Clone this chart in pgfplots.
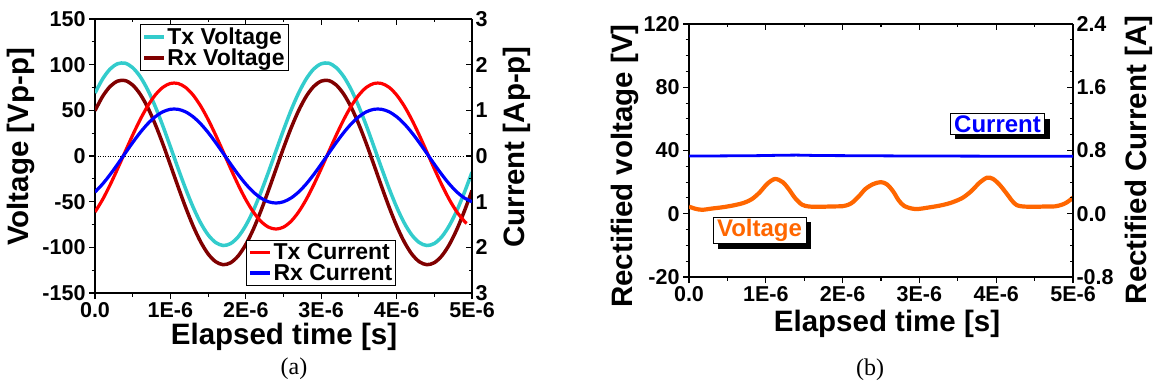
\documentclass[border=0pt]{standalone}
\usepackage{fontspec}
\setmainfont{Liberation Sans}
\newfontfamily\seriffont{Liberation Serif}
\usepackage{pgfplots}
\pgfplotsset{compat=1.18}
\usetikzlibrary{shadows}

\newcommand\tickfont{\fontsize{21.5}{24}\selectfont\bfseries}
\newcommand\labfont{\fontsize{29.5}{32}\selectfont\bfseries}
\newcommand\legfont{\fontsize{23}{25}\selectfont\bfseries}

\definecolor{txv}{RGB}{51,204,204}
\definecolor{rxv}{RGB}{128,0,0}
\definecolor{orng}{RGB}{255,102,0}

\pgfplotsset{
  base/.style={scale only axis, xmin=0, xmax=5, xtick={0,1,2,3,4,5}, minor x tick num=1,
    axis line style={line width=1.1pt,-}, every tick/.style={black,line width=1.1pt},
    major tick length=6pt, minor tick length=3.5pt,
    tick label style={font=\tickfont},
    /pgf/number format/assume math mode=true},
  lowerleft/.style={base, axis x line*=bottom, axis y line*=left, tick align=outside,
    xticklabels={0.0,1E-6,2E-6,3E-6,4E-6,5E-6}},
  upperright/.style={base, axis x line*=top, axis y line*=right, tick align=inside,
    xticklabel=\empty},
  leg/.style={legend style={draw=black, line width=1.1pt, font=\legfont, inner sep=2pt,
      nodes={inner sep=1.5pt}, cells={anchor=west}, row sep=0pt},
    legend image code/.code={\draw[##1, line width=3.5pt] (0pt,0pt) -- (20pt,0pt);}},
}

\begin{document}
\begin{tikzpicture}
\useasboundingbox (0pt,0pt) rectangle (1155pt,-387pt);

% ---------------- Panel (a) ----------------
\begin{axis}[lowerleft, leg, at={(95pt,-293pt)}, anchor=south west, width=377pt, height=274pt,
  ymin=-150, ymax=150, ytick={-150,-100,-50,0,50,100,150},
  yticklabels={-150,-100,-50,0,50,100,150}, minor y tick num=1,
  legend style={at={(0.119,0.982)}, anchor=north west}]
\addplot[black, line width=0.9pt, dash pattern=on 1pt off 1.5pt, forget plot] coordinates {(0,0) (4.89,0)};
\addplot[txv, line width=3.5pt, smooth] table {
t v
0.0 68.9
0.1 84.2
0.2 95.2
0.3 101.0
0.4 101.6
0.5 96.7
0.6 86.8
0.7 72.3
0.8 54.0
0.9 32.9
1.0 10.1
1.1 -13.1
1.2 -35.5
1.3 -55.8
1.4 -73.1
1.5 -86.3
1.6 -94.7
1.7 -98.0
1.8 -95.8
1.9 -88.4
2.0 -76.1
2.1 -59.6
2.2 -39.7
2.3 -17.7
2.4 5.5
2.5 28.4
2.6 50.0
2.7 68.9
2.8 84.2
2.9 95.2
3.0 101.0
3.1 101.6
3.2 96.7
3.3 86.8
3.4 72.3
3.5 54.0
3.6 32.9
3.7 10.1
3.8 -13.1
3.9 -35.5
4.0 -55.8
4.1 -73.1
4.2 -86.3
4.3 -94.7
4.4 -98.0
4.5 -95.8
4.6 -88.4
4.7 -76.1
4.8 -59.6
4.9 -39.7
5.0 -17.7
};
\addlegendentry{Tx Voltage}
\addplot[rxv, line width=3.5pt, smooth] table {
t v
0.0 49.6
0.1 65.1
0.2 76.1
0.3 82.0
0.4 82.6
0.5 77.7
0.6 67.6
0.7 53.0
0.8 34.5
0.9 13.2
1.0 -9.8
1.1 -33.2
1.2 -55.8
1.3 -76.4
1.4 -93.8
1.5 -107.2
1.6 -115.7
1.7 -119.0
1.8 -116.8
1.9 -109.3
2.0 -96.9
2.1 -80.2
2.2 -60.1
2.3 -37.8
2.4 -14.5
2.5 8.7
2.6 30.5
2.7 49.6
2.8 65.1
2.9 76.1
3.0 82.0
3.1 82.6
3.2 77.7
3.3 67.6
3.4 53.0
3.5 34.5
3.6 13.2
3.7 -9.8
3.8 -33.2
3.9 -55.8
4.0 -76.4
4.1 -93.8
4.2 -107.2
4.3 -115.7
4.4 -119.0
4.5 -116.8
4.6 -109.3
4.7 -96.9
4.8 -80.2
4.9 -60.1
5.0 -37.8
};
\addlegendentry{Rx Voltage}
\end{axis}

\begin{axis}[upperright, leg, at={(95pt,-293pt)}, anchor=south west, width=377pt, height=274pt,
  ymin=-3, ymax=3, ytick={-3,-2,-1,0,1,2,3}, yticklabels={3,2,1,0,1,2,3}, minor y tick num=1,
  legend style={at={(0.4005,0.0255)}, anchor=south west}]
\addplot[red, line width=3.2pt, smooth] table {
t a
0.0 -1.226
0.1 -0.956
0.2 -0.634
0.3 -0.278
0.4 0.093
0.5 0.459
0.6 0.800
0.7 1.098
0.8 1.337
0.9 1.504
1.0 1.589
1.1 1.589
1.2 1.504
1.3 1.337
1.4 1.098
1.5 0.800
1.6 0.459
1.7 0.093
1.8 -0.278
1.9 -0.634
2.0 -0.956
2.1 -1.226
2.2 -1.430
2.3 -1.557
2.4 -1.600
2.5 -1.557
2.6 -1.430
2.7 -1.226
2.8 -0.956
2.9 -0.634
3.0 -0.278
3.1 0.093
3.2 0.459
3.3 0.800
3.4 1.098
3.5 1.337
3.6 1.504
3.7 1.589
3.8 1.589
3.9 1.504
4.0 1.337
4.1 1.098
4.2 0.800
4.3 0.459
4.4 0.093
4.5 -0.278
4.6 -0.634
4.7 -0.956
4.8 -1.226
4.9 -1.430
4.93 -1.476
};
\addlegendentry{Tx Current}
\addplot[blue, line width=3.2pt, smooth] table {
t a
0.0 -0.789
0.1 -0.615
0.2 -0.408
0.3 -0.179
0.4 0.060
0.5 0.295
0.6 0.515
0.7 0.707
0.8 0.861
0.9 0.968
1.0 1.023
1.1 1.023
1.2 0.968
1.3 0.861
1.4 0.707
1.5 0.515
1.6 0.295
1.7 0.060
1.8 -0.179
1.9 -0.408
2.0 -0.615
2.1 -0.789
2.2 -0.920
2.3 -1.002
2.4 -1.030
2.5 -1.002
2.6 -0.920
2.7 -0.789
2.8 -0.615
2.9 -0.408
3.0 -0.179
3.1 0.060
3.2 0.295
3.3 0.515
3.4 0.707
3.5 0.861
3.6 0.968
3.7 1.023
3.8 1.023
3.9 0.968
4.0 0.861
4.1 0.707
4.2 0.515
4.3 0.295
4.4 0.060
4.5 -0.179
4.6 -0.408
4.7 -0.615
4.8 -0.789
4.9 -0.920
5.0 -1.002
};
\addlegendentry{Rx Current}
\end{axis}

\node[font=\labfont, rotate=90] at (21pt,-147pt) {Voltage [Vp-p]};
\node[font=\labfont, rotate=90] at (517pt,-147pt) {Current [Ap-p]};
\node[font=\labfont] at (284pt,-337pt) {Elapsed time [s]};
\node[font=\seriffont\fontsize{24}{26}\selectfont] at (294pt,-369pt) {(a)};

% ---------------- Panel (b) ----------------
\begin{axis}[lowerleft, at={(689pt,-277pt)}, anchor=south west, width=384pt, height=253pt,
  ymin=-40, ymax=120, ytick={-40,0,40,80,120}, yticklabels={-20,0,40,80,120}, minor y tick num=3]
\addplot[orng, line width=4.2pt, smooth] table {
t v
0.00 4.5
0.08 3.2
0.17 2.5
0.30 3.3
0.45 4.2
0.60 5.5
0.72 7.0
0.82 9.3
0.92 13.5
1.02 19.0
1.12 22.0
1.22 20.0
1.30 15.5
1.38 10.0
1.47 5.8
1.56 4.6
1.70 4.4
1.85 4.6
2.00 4.8
2.08 5.8
2.14 7.6
2.22 11.5
2.30 15.8
2.40 18.8
2.50 20.0
2.58 18.5
2.66 14.0
2.73 8.5
2.80 5.0
2.90 3.3
2.98 3.0
3.10 3.8
3.25 5.0
3.36 6.2
3.46 7.8
3.57 10.3
3.68 14.5
3.78 19.5
3.88 22.8
3.96 22.0
4.05 18.0
4.14 12.5
4.21 8.0
4.27 5.4
4.35 4.6
4.50 4.4
4.65 4.6
4.77 4.7
4.86 5.8
4.92 7.2
4.97 9.0
5.00 10.3
};
\end{axis}

\begin{axis}[upperright, at={(689pt,-277pt)}, anchor=south west, width=384pt, height=253pt,
  ymin=-0.8, ymax=2.4, ytick={-0.8,0,0.8,1.6,2.4}, yticklabels={-0.8,0.0,0.8,1.6,2.4}, minor y tick num=3]
\addplot[blue, line width=2.8pt] table {
t a
0.0 0.730
0.3 0.731
0.6 0.733
0.9 0.735
1.2 0.740
1.4 0.742
1.6 0.738
1.8 0.736
2.0 0.735
2.4 0.733
2.8 0.731
3.2 0.730
3.6 0.729
4.0 0.728
4.4 0.727
4.8 0.727
5.0 0.726
};
\end{axis}

\node[draw=black, line width=0.9pt, fill=white, inner xsep=4pt, inner ysep=2pt,
  drop shadow={shadow xshift=5pt, shadow yshift=-5pt, fill=black, opacity=1},
  text=blue, font=\fontsize{24}{26}\selectfont\bfseries] at (997.5pt,-124pt) {Current};
\node[draw=black, line width=0.9pt, fill=white, inner xsep=4pt, inner ysep=2pt,
  drop shadow={shadow xshift=5pt, shadow yshift=-5pt, fill=black, opacity=1},
  text=orng, font=\fontsize{24}{26}\selectfont\bfseries] at (759.5pt,-230.5pt) {Voltage};

\node[font=\labfont, rotate=90] at (625pt,-166pt) {Rectified voltage [V]};
\node[font=\labfont, rotate=90] at (1139pt,-160pt) {Rectified Current [A]};
\node[font=\labfont] at (887pt,-324pt) {Elapsed time [s]};
\node[font=\seriffont\fontsize{24}{26}\selectfont] at (870pt,-370pt) {(b)};
\end{tikzpicture}
\end{document}
